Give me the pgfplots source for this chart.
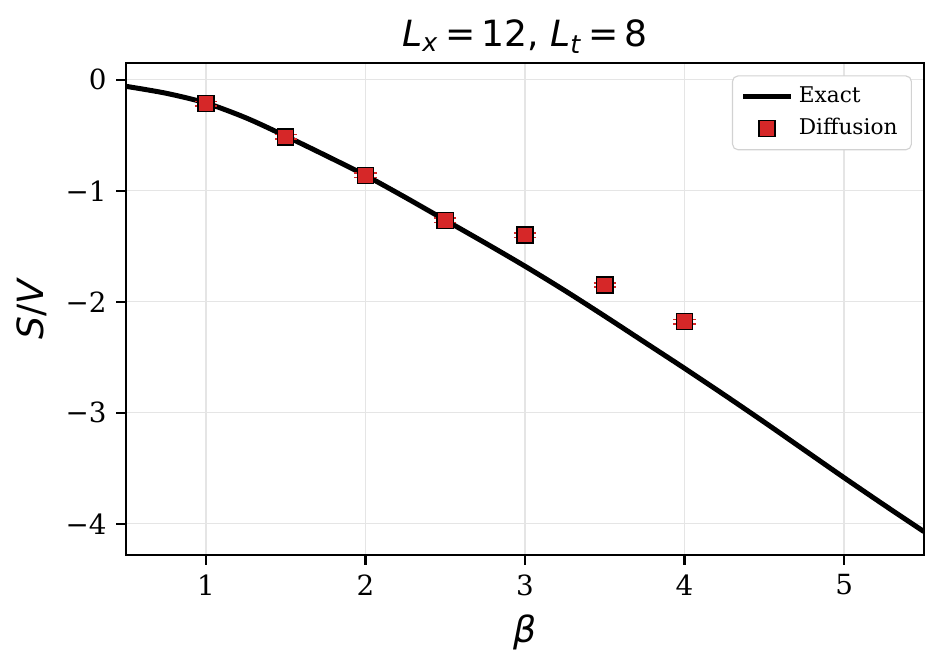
\documentclass[border=0pt]{standalone}
\usepackage{pgfplots}
\pgfplotsset{compat=1.18}
\usepackage{fontspec}
\setmainfont{DejaVu Serif}
\newfontfamily\dvs{DejaVu Sans}

\definecolor{tabred}{HTML}{D62728}

% exact curve
\pgfplotstableread{
b     s
0.50  -0.060
0.75  -0.122
1.00  -0.210
1.25  -0.343
1.50  -0.508
1.75  -0.682
2.00  -0.862
2.25  -1.060
2.50  -1.265
2.75  -1.470
3.00  -1.680
3.25  -1.900
3.50  -2.130
3.75  -2.365
4.00  -2.600
4.25  -2.840
4.50  -3.085
4.75  -3.335
5.00  -3.585
5.25  -3.830
5.50  -4.070
}\exacttab

% diffusion estimates
\pgfplotstableread{
b     s      e
1.0   -0.215 0.02
1.5   -0.515 0.02
2.0   -0.862 0.02
2.5   -1.267 0.02
3.0   -1.400 0.02
3.5   -1.850 0.02
4.0   -2.180 0.02
}\difftab

\begin{document}
\begin{tikzpicture}
\begin{axis}[
    name=ax,
    scale only axis,
    width=287.3pt, height=177.1pt,
    xmin=0.5, xmax=5.5,
    ymin=-4.28, ymax=0.15,
    xtick={1,2,3,4,5},
    ytick={-4,-3,-2,-1,0},
    yticklabels={−4,−3,−2,−1,0},
    tick label style={font=\fontsize{10}{12}\selectfont},
    /pgf/number format/assume math mode=true,
    tick align=outside, tick pos=left,
    major tick length=3.5pt,
    every tick/.style={black, line width=0.8pt},
    axis line style={line width=0.8pt},
    grid=major,
    grid style={gray!20, line width=0.5pt},
    title={{\dvs\fontsize{13}{15}\selectfont\textit{L}\textsubscript{\textit{x}}\,=\,12,\ \textit{L}\textsubscript{\textit{t}}\,=\,8}},
    title style={yshift=-6pt},
    xlabel={{\dvs\fontsize{13}{15}\selectfont\textit{β}}},
    ylabel={{\dvs\fontsize{13}{15}\selectfont\textit{S}/\textit{V}}},
    legend cell align=left,
    legend style={at={(0.985,0.975)}, anchor=north east,
        draw=gray!35, rounded corners=2pt,
        font=\fontsize{7.8}{9}\selectfont,
        row sep=0pt},
]
\addplot[black, line width=1.8pt, smooth] table[x=b, y=s] {\exacttab};
\addlegendentry{Exact}

\addplot[only marks, mark=square*, mark size=2.9pt,
    mark options={fill=tabred, draw=black, line width=0.5pt},
    error bars/.cd, y dir=both, y explicit,
    error bar style={draw=tabred, line width=0.6pt},
    error mark options={draw=tabred, fill=tabred, rotate=90, mark size=4pt, line width=0.6pt}]
    table[x=b, y=s, y error=e] {\difftab};
\addlegendentry{Diffusion}
\end{axis}
\pgfresetboundingbox
\path[use as bounding box] ([xshift=-45.4pt, yshift=-42.1pt]ax.south west)
    rectangle ([xshift=7.6pt, yshift=22.7pt]ax.north east);
\end{tikzpicture}
\end{document}
